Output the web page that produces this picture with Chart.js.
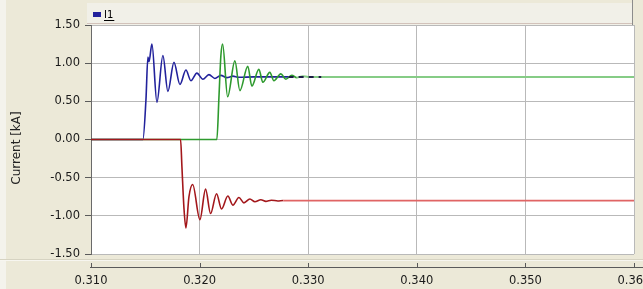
<!DOCTYPE html>
<html>
<head>
<meta charset="utf-8">
<script src="https://cdn.jsdelivr.net/npm/chart.js@4.4.1/dist/chart.umd.min.js"></script>
<style>
  html, body { margin: 0; padding: 0; background: #ECE9D8; }
  canvas { display: block; }
</style>
</head>
<body>
<canvas id="c" width="643" height="289"></canvas>
<script>
// ---- data (time in s, current in kA) ----
const xTicks = [0.310, 0.320, 0.330, 0.340, 0.350, 0.360];
const yTicks = [-1.50, -1.00, -0.50, 0.00, 0.50, 1.00, 1.50];

const i1Time = [0.3100, 0.31478, 0.31506, 0.31524, 0.31534, 0.31561, 0.31607, 0.31662, 0.31708, 0.31764,
                0.31819, 0.31874, 0.31920, 0.31975, 0.32030, 0.32086, 0.32141, 0.32196, 0.32251, 0.32306,
                0.32360, 0.3250, 0.3282];
const i1Vals = [0, 0, 0.52, 1.08, 1.02, 1.25, 0.49, 1.10, 0.63, 1.01,
                0.72, 0.91, 0.77, 0.87, 0.79, 0.85, 0.80, 0.84, 0.81, 0.83,
                0.815, 0.82, 0.82];

const i1TailTime = [0.3282, 0.3312];
const i1TailVals = [0.82, 0.82];

const i2Time = [0.3100, 0.32159, 0.32178, 0.32196, 0.32212, 0.32258, 0.32325, 0.32371, 0.32444, 0.32481,
                0.32546, 0.32582, 0.32647, 0.32684, 0.32748, 0.32794, 0.32849, 0.32895, 0.32950, 0.3300, 0.3600];
const i2Vals = [0, 0, 0.55, 1.10, 1.25, 0.56, 1.03, 0.64, 0.96, 0.70,
                0.92, 0.75, 0.88, 0.77, 0.86, 0.79, 0.84, 0.81, 0.83, 0.82, 0.82];

const i3Time = [0.3100, 0.31825, 0.31837, 0.31856, 0.31874, 0.31902, 0.31936, 0.32003, 0.32055, 0.32101,
                0.32156, 0.32202, 0.32260, 0.32306, 0.32362, 0.32408, 0.32463, 0.32509, 0.32564, 0.3261,
                0.3266, 0.3272, 0.3277, 0.3600];
const i3Vals = [0, 0, -0.35, -0.90, -1.16, -0.75, -0.59, -1.05, -0.65, -0.97,
                -0.71, -0.91, -0.74, -0.86, -0.76, -0.83, -0.78, -0.815, -0.79, -0.81,
                -0.795, -0.805, -0.80, -0.80];

const seriesNames = ['I1', 'I2', 'I3'];
const axisTitle = 'Current [kA]';

const pts = (t, v) => t.map((x, i) => ({ x: x, y: v[i] }));

const FONT = "'DejaVu Sans', sans-serif";

const framePlugin = {
  id: 'frame',
  beforeDraw(chart) {
    const ctx = chart.ctx, a = chart.chartArea;
    ctx.save();
    ctx.fillStyle = '#ECE9D8';
    ctx.fillRect(0, 0, chart.width, chart.height);
    ctx.fillStyle = '#F4F3EC';
    ctx.fillRect(0, 0, 6, chart.height);
    // top legend strip
    ctx.fillStyle = '#F1F0E8';
    ctx.fillRect(87, 3, a.right - 2 - 87, a.top - 3);
    ctx.fillStyle = '#D2C2BA';
    ctx.fillRect(87, a.top - 2, a.right - 2 - 87, 1);
    ctx.fillStyle = '#8C8C8C';
    ctx.fillRect(a.right - 2, 0, 1, a.top);
    // plot area
    ctx.fillStyle = '#FFFFFF';
    ctx.fillRect(a.left, a.top, a.right - a.left, a.bottom - a.top);
    ctx.restore();
  },
  afterDraw(chart) {
    const ctx = chart.ctx, a = chart.chartArea, xs = chart.scales.x;
    ctx.save();
    // separator below plot
    ctx.fillStyle = '#D6D3C2';
    ctx.fillRect(0, 259, chart.width, 1);
    ctx.fillStyle = '#F7F6F0';
    ctx.fillRect(0, 260, chart.width, 1);
    // x axis line with upward ticks
    ctx.fillStyle = '#5A5A5A';
    ctx.fillRect(a.left - 1, 267, chart.width - a.left + 1, 1);
    xTicks.forEach(v => {
      const px = Math.round(xs.getPixelForValue(v));
      ctx.fillRect(px, 263, 1, 4);
    });
    // legend
    const ds = chart.data.datasets.find(d => d.label === seriesNames[0]);
    ctx.fillStyle = ds.borderColor;
    ctx.fillRect(93, 12, 8, 5);
    ctx.fillStyle = '#000';
    ctx.font = "10px " + FONT;
    ctx.textBaseline = 'alphabetic';
    ctx.textAlign = 'left';
    ctx.fillText(ds.label, 104, 18);
    const w = ctx.measureText(ds.label).width;
    ctx.fillRect(104, 20, w + 1, 1);
    // y axis title
    ctx.translate(17, 148);
    ctx.rotate(-Math.PI / 2);
    ctx.font = "12px " + FONT;
    ctx.fillStyle = '#222';
    ctx.textAlign = 'center';
    ctx.textBaseline = 'middle';
    ctx.fillText(axisTitle, 0, 0);
    ctx.restore();
  }
};

const steadyColor = (x0, light) => (c) => c.p0.parsed.x >= x0 ? light : undefined;
const steadyWidth = (x0, w) => (c) => c.p0.parsed.x >= x0 ? w : undefined;

new Chart(document.getElementById('c'), {
  type: 'line',
  data: {
    datasets: [
      {
        label: seriesNames[2], data: pts(i3Time, i3Vals),
        borderColor: '#A3171B', borderWidth: 1.6,
        segment: { borderColor: steadyColor(0.3277, '#E06464'), borderWidth: steadyWidth(0.3277, 1.8) }
      },
      {
        label: 'I1 tail', data: pts(i1TailTime, i1TailVals),
        borderColor: '#1C1C44', borderWidth: 2, borderDash: [5, 5]
      },
      {
        label: seriesNames[1], data: pts(i2Time, i2Vals),
        borderColor: '#2E9A2E', borderWidth: 1.6,
        segment: { borderColor: steadyColor(0.3285, '#86CC86'), borderWidth: steadyWidth(0.3285, 2) }
      },
      {
        label: seriesNames[0], data: pts(i1Time, i1Vals),
        borderColor: '#22229C', borderWidth: 1.6
      }
    ]
  },
  options: {
    responsive: false,
    animation: false,
    devicePixelRatio: 1,
    layout: { padding: { left: 0, right: 9, top: 25, bottom: 0 } },
    elements: {
      point: { radius: 0 },
      line: { tension: 0.3, cubicInterpolationMode: 'monotone' }
    },
    plugins: { legend: { display: false }, tooltip: { enabled: false } },
    scales: {
      x: {
        type: 'linear', min: 0.31, max: 0.36,
        afterBuildTicks: s => { s.ticks = xTicks.map(v => ({ value: v })); },
        afterFit: s => { s.height = 35; s.paddingLeft = 0; s.paddingRight = 0; },
        grid: { color: '#B9B9B9', lineWidth: 1, drawTicks: false },
        border: { display: false },
        ticks: {
          padding: 20, maxRotation: 0, autoSkip: false,
          color: '#1A1A1A', font: { family: FONT, size: 11.5 },
          callback: v => Number(v).toFixed(3)
        }
      },
      y: {
        type: 'linear', min: -1.5, max: 1.5,
        afterBuildTicks: s => { s.ticks = yTicks.map(v => ({ value: v })); },
        afterFit: s => { s.width = 91; },
        grid: { color: '#B9B9B9', lineWidth: 1, tickLength: 6, tickColor: '#5A5A5A' },
        border: { display: true, color: '#6A6A6A', width: 1 },
        ticks: {
          padding: 5, color: '#1A1A1A', font: { family: FONT, size: 11.5 },
          callback: v => Number(v).toFixed(2)
        }
      }
    }
  },
  plugins: [framePlugin]
});
</script>
</body>
</html>
